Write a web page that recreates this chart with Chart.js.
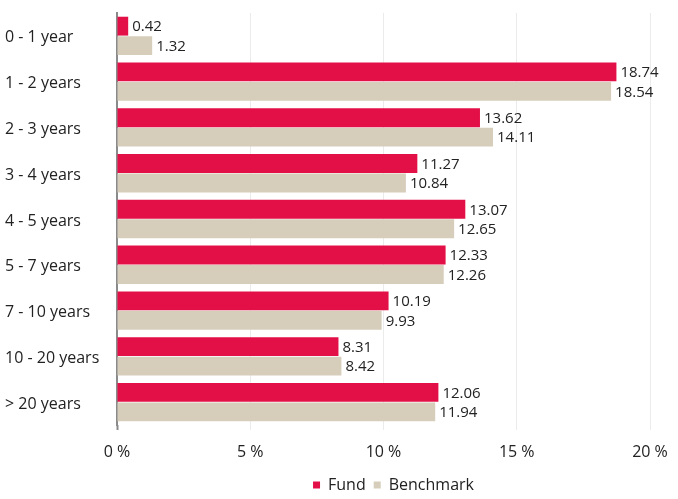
<!DOCTYPE html>
<html>
<head>
<meta charset="utf-8">
<script src="https://cdn.jsdelivr.net/npm/chart.js@4"></script>
<style>
  html, body { margin: 0; padding: 0; background: #fff; }
  #wrap { width: 678px; height: 499px; }
</style>
</head>
<body>
<div id="wrap"><canvas id="chart" width="678" height="499"></canvas></div>
<script>
// Laufzeitbänder und Gewichte in %
const categories = ['0 - 1 year', '1 - 2 years', '2 - 3 years', '3 - 4 years', '4 - 5 years',
                    '5 - 7 years', '7 - 10 years', '10 - 20 years', '> 20 years'];
const fundValues = [0.42, 18.74, 13.62, 11.27, 13.07, 12.33, 10.19, 8.31, 12.06];
const benchmarkValues = [1.32, 18.54, 14.11, 10.84, 12.65, 12.26, 9.93, 8.42, 11.94];
const xTicks = [0, 5, 10, 15, 20];

const FONT = '"Open Sans", "DejaVu Sans", sans-serif';
const TEXT = '#222';

// Werte rechts neben die Balken schreiben
const valueLabels = {
    id: 'valueLabels',
    afterDatasetsDraw(chart) {
        const ctx = chart.ctx;
        ctx.save();
        ctx.font = '15px ' + FONT;
        ctx.fillStyle = TEXT;
        ctx.textBaseline = 'middle';
        ctx.textAlign = 'left';
        chart.data.datasets.forEach((ds, i) => {
            chart.getDatasetMeta(i).data.forEach((bar, j) => {
                ctx.fillText(ds.data[j].toFixed(2), bar.x + 4, bar.y + 1);
            });
        });
        ctx.restore();
    }
};

// Legende etwas nach rechts/unten schieben (mittig unter der Zeichenfläche)
const legendShift = {
    id: 'legendShift',
    afterLayout(chart) {
        const lg = chart.legend;
        if (!lg) return;
        const area = chart.chartArea;
        const shift = (area.left + area.right) / 2 + 10 - (lg.left + lg.right) / 2;
        lg.left += shift;
        lg.right += shift;
        lg.top += 4;
        lg.bottom += 4;
    }
};

const ctx = document.getElementById('chart').getContext('2d');
window.myChart = new Chart(ctx, {
    type: 'bar',
    data: {
        labels: categories,
        datasets: [
            { label: 'Fund', data: fundValues, backgroundColor: '#e31048',
              categoryPercentage: 0.85, barPercentage: 0.97 },
            { label: 'Benchmark', data: benchmarkValues, backgroundColor: '#d6cebb',
              categoryPercentage: 0.85, barPercentage: 0.97 }
        ]
    },
    options: {
        indexAxis: 'y',
        responsive: false,
        animation: false,
        layout: { padding: { left: 5, right: 28, top: 13, bottom: 0 } },
        plugins: {
            tooltip: { enabled: false },
            legend: {
                position: 'bottom',
                labels: {
                    font: { family: FONT, size: 16 },
                    color: TEXT,
                    usePointStyle: true,
                    pointStyle: 'rect',
                    boxWidth: 7,
                    boxHeight: 7,
                    padding: 8
                }
            }
        },
        scales: {
            x: {
                min: 0,
                max: 20,
                afterBuildTicks: axis => { axis.ticks = xTicks.map(v => ({ value: v })); },
                ticks: {
                    font: { family: FONT, size: 16 },
                    color: TEXT,
                    padding: 13,
                    callback: v => v + ' %'
                },
                grid: {
                    color: '#ebebeb',
                    drawTicks: true,
                    tickLength: 5,
                    tickColor: c => c.index === 0 ? '#8a8a8a' : '#ebebeb',
                    tickWidth: c => c.index === 0 ? 2 : 1
                },
                border: { display: false },
                afterFit: axis => {
                    axis.height = 40;
                    axis.paddingLeft = 0;
                    axis.paddingRight = 0;
                }
            },
            y: {
                ticks: {
                    font: { family: FONT, size: 16 },
                    color: TEXT,
                    crossAlign: 'far',
                    labelOffset: 2
                },
                grid: { display: false },
                border: { display: true, color: '#8a8a8a', width: 2 },
                afterFit: axis => { axis.width = 112; }
            }
        }
    },
    plugins: [valueLabels, legendShift]
});
</script>
</body>
</html>
